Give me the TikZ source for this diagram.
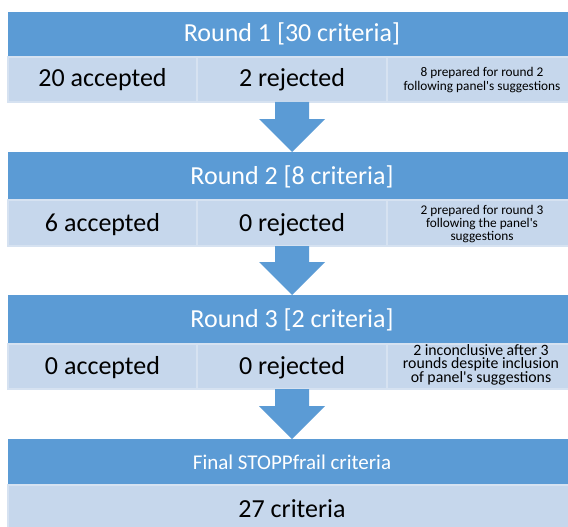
\documentclass[tikz,border=0pt]{standalone}
\usepackage{fontspec}
\setmainfont{Carlito}
\usetikzlibrary{calc}
\definecolor{hdrblue}{HTML}{5B9BD5}
\definecolor{subblue}{HTML}{C6D7EC}
\definecolor{subedge}{HTML}{D6E2F1}
\newcommand\tightlines{\lineskiplimit=-20pt\relax}
\newcommand\smallfa{\fontsize{13.3}{14}\selectfont\tightlines}
\newcommand\smallfb{\fontsize{13.3}{13}\selectfont\tightlines}
\newcommand\smallfc{\fontsize{15.8}{13.5}\selectfont\tightlines}
\tikzset{
  hdrbox/.style={fill=hdrblue, draw=none, anchor=north west, inner sep=0pt, outer sep=0pt},
  subbox/.style={fill=subblue, draw=subedge, line width=1.2pt, anchor=north west, inner sep=0pt, outer sep=0pt},
  bigtxt/.style={font=\fontsize{26}{30}\selectfont, anchor=base, inner sep=0pt},
  hdrtxt/.style={bigtxt, text=white},
  fintxt/.style={font=\fontsize{21}{25}\selectfont, anchor=base, inner sep=0pt, text=white},
  smalltxt/.style={font=\smallfa, align=center, inner sep=0pt, anchor=north},
  smalltxtb/.style={smalltxt, font=\smallfb},
  smalltxtc/.style={smalltxt, font=\smallfc},
}
\newcommand\blockarr[2]{%
  \fill[hdrblue] let \p1=(#1.south), \p2=(#2.north) in
    (\x1-17pt,\y1) -- (\x1+17pt,\y1) -- (\x1+17pt,\y2+33pt) -- (\x1+33pt,\y2+33pt)
    -- (\x1,\y2) -- (\x1-33pt,\y2+33pt) -- (\x1-17pt,\y2+33pt) -- cycle;}
\newcommand\fstrut{\rule{0pt}{14pt}}
\begin{document}
\begin{tikzpicture}[x=1pt,y=-1pt]
\useasboundingbox (0,0) rectangle (568,527);
% Round 1
\node[hdrbox, minimum width=560pt, minimum height=45pt] (h1) at (8,12) {};
\node[subbox, minimum width=189pt, minimum height=45pt] (s1a) at (8,57) {};
\node[subbox, minimum width=190pt, minimum height=45pt] (s1b) at (197,57) {};
\node[subbox, minimum width=185pt, minimum height=45pt] (s1c) at (387,57) {};
% Round 2
\node[hdrbox, minimum width=560pt, minimum height=48pt] (h2) at (8,152) {};
\node[subbox, minimum width=189pt, minimum height=46pt] (s2a) at (8,200) {};
\node[subbox, minimum width=190pt, minimum height=46pt] (s2b) at (197,200) {};
\node[subbox, minimum width=185pt, minimum height=46pt] (s2c) at (387,200) {};
% Round 3
\node[hdrbox, minimum width=560pt, minimum height=49pt] (h3) at (8,295) {};
\node[subbox, minimum width=189pt, minimum height=45pt] (s3a) at (8,344) {};
\node[subbox, minimum width=190pt, minimum height=45pt] (s3b) at (197,344) {};
\node[subbox, minimum width=185pt, minimum height=45pt] (s3c) at (387,344) {};
% Final
\node[hdrbox, minimum width=560pt, minimum height=46pt] (h4) at (8,439) {};
\node[subbox, minimum width=564pt, minimum height=46pt] (s4) at (8,485) {};
% arrows
\blockarr{s1b}{h2}
\blockarr{s2b}{h3}
\blockarr{s3b}{h4}
% texts
\node[hdrtxt] (h1t) at (292,42) {Round 1 [30 criteria]};
\node[bigtxt] (s1at) at (102.5,87) {20 accepted};
\node[bigtxt] (s1bt) at (292,87) {2 rejected};
\node[smalltxt] (s1ct) at (482,62) {\fstrut 8 prepared for round 2\\following panel\textquotesingle s suggestions};
\node[hdrtxt] (h2t) at (292,184) {Round 2 [8 criteria]};
\node[bigtxt] (s2at) at (102.5,231) {6 accepted};
\node[bigtxt] (s2bt) at (292,231) {0 rejected};
\node[smalltxtb] (s2ct) at (482,200) {\fstrut 2 prepared for round 3\\following the panel\textquotesingle s\\suggestions};
\node[hdrtxt] (h3t) at (292,327.5) {Round 3 [2 criteria]};
\node[bigtxt] (s3at) at (102.5,374.5) {0 accepted};
\node[bigtxt] (s3bt) at (292,374.5) {0 rejected};
\node[smalltxtc] (s3ct) at (481,341) {\fstrut 2 inconclusive after 3\\rounds despite inclusion\\of panel\textquotesingle s suggestions};
\node[fintxt] (h4t) at (292,469) {Final STOPPfrail criteria};
\node[bigtxt] (s4t) at (292,517) {27 criteria};
\end{tikzpicture}
\end{document}
